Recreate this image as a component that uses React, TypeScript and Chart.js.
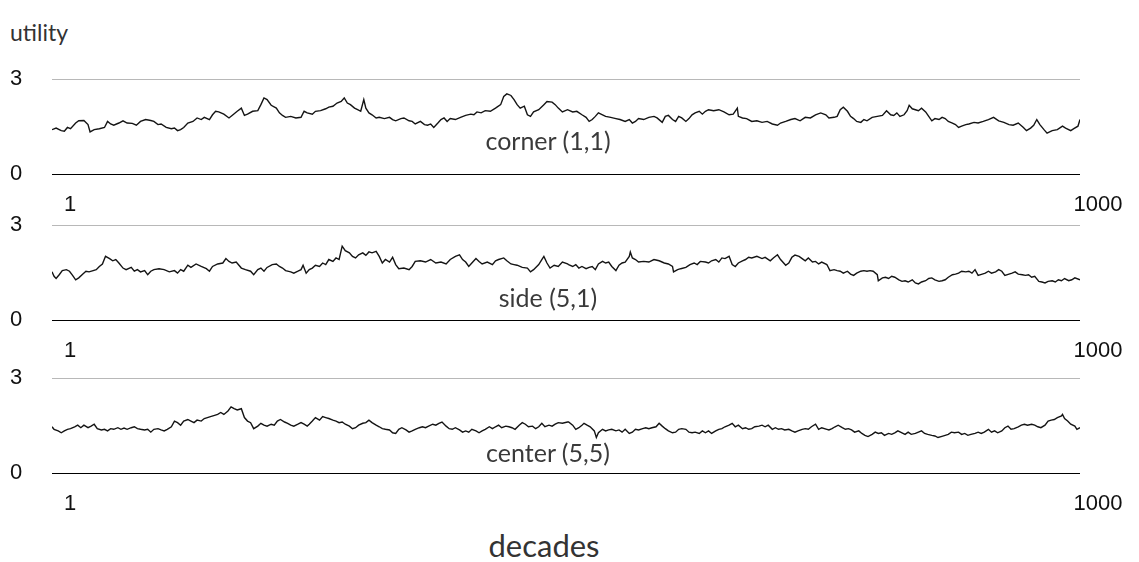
import React, { useEffect, useRef } from "react";
import { Chart, registerables } from "chart.js";

Chart.register(...registerables);

const xTickValues = [1, 1000];
const yTickValues = [0, 3];
const panelNames = ["corner (1,1)", "side (5,1)", "center (5,5)"];
const yAxisTitle = "utility";
const xAxisTitle = "decades";

const cornerDecades = [
  1, 5, 10, 13, 16, 19, 24, 27, 32, 36, 38, 42, 47, 52, 55, 58, 61, 66, 70, 74,
  79, 83, 87, 92, 97, 100, 104, 107, 112, 117, 120, 123, 126, 129, 133, 138, 142, 146, 149, 154,
  157, 160, 163, 168, 173, 176, 181, 185, 188, 191, 196, 201, 204, 207, 210, 214, 219, 222, 225, 228,
  233, 238, 243, 246, 249,
  254, 257, 262, 267, 270, 274, 278, 282, 285, 288, 291, 295, 298, 301, 304, 306, 309, 312, 316, 319,
  324, 329, 332, 335, 340, 343, 348, 351, 354, 359, 363, 366, 369, 372, 376, 379, 382, 385, 388, 393,
  398, 403, 408, 411, 414, 418, 422, 427, 432, 437, 440, 443, 447, 450, 453, 456, 460, 463, 466, 469,
  474, 479, 482, 487, 490, 493, 497, 502,
  507, 511, 516, 520, 523, 526, 529, 532, 536, 539, 544, 549, 553, 558, 562, 565, 568, 571, 576, 581,
  586, 589, 594, 597, 600, 604, 607, 610, 613, 617, 620, 623, 626, 630, 633, 636, 639, 644, 649, 654,
  659, 663, 667, 668, 672, 676, 681, 686, 691, 696, 701, 706, 709, 714, 719, 723, 728, 733, 738, 743,
  748, 753,
  756, 761, 764, 767, 770, 774, 777, 780, 783, 787, 790, 793, 798, 803, 808, 812, 816, 819, 822, 825,
  829, 832, 834, 837, 840, 843, 846, 850, 853, 856, 859, 863, 866, 869, 872, 876, 879, 882, 885, 889,
  892, 897, 901, 906, 911, 916, 921, 926, 931, 935, 940, 945, 948, 952, 955, 958, 961, 965, 968, 973,
  978, 983, 986, 991, 994, 998, 1000,
];
const cornerUtility = [
  1.40, 1.45, 1.37, 1.35, 1.47, 1.43, 1.61, 1.68, 1.69, 1.56, 1.33, 1.40, 1.43, 1.47, 1.66, 1.58, 1.54, 1.61, 1.68, 1.61,
  1.60, 1.54, 1.66, 1.72, 1.69, 1.66, 1.56, 1.58, 1.47, 1.43, 1.45, 1.37, 1.40, 1.47, 1.61, 1.66, 1.77, 1.72, 1.79, 1.72,
  1.87, 1.98, 1.96, 1.89, 1.77, 1.85, 1.98, 2.08, 1.85, 1.89, 1.98, 2.00, 2.19, 2.40, 2.35, 2.17, 2.08, 1.93, 1.85, 1.79,
  1.82, 1.77, 1.79, 1.98, 1.93,
  1.89, 1.98, 2.00, 2.06, 2.11, 2.14, 2.24, 2.29, 2.40, 2.24, 2.19, 2.08, 2.03, 1.98, 2.35, 2.08, 1.93, 1.87, 1.77, 1.79,
  1.75, 1.79, 1.72, 1.68, 1.75, 1.77, 1.68, 1.66, 1.58, 1.66, 1.56, 1.54, 1.58, 1.47, 1.61, 1.72, 1.77, 1.66, 1.75, 1.72,
  1.79, 1.85, 1.89, 1.87, 1.96, 1.93, 2.00, 1.98, 2.08, 2.19, 2.45, 2.53, 2.48, 2.35, 2.19, 2.08, 2.14, 1.87, 1.82, 1.96,
  2.03, 2.19, 2.29, 2.27, 2.19, 2.08, 1.96, 2.03,
  1.96, 1.98, 1.87, 1.79, 1.66, 1.72, 1.82, 1.93, 1.87, 1.82, 1.79, 1.75, 1.72, 1.66, 1.72, 1.61, 1.66, 1.75, 1.72, 1.79,
  1.82, 1.77, 1.63, 1.82, 1.85, 1.72, 1.66, 1.82, 1.77, 1.66, 1.75, 1.87, 1.93, 1.98, 1.89, 1.98, 2.03, 2.00, 2.03, 1.96,
  1.87, 1.89, 2.08, 1.82, 1.77, 1.75, 1.66, 1.68, 1.63, 1.66, 1.58, 1.54, 1.61, 1.66, 1.72, 1.75, 1.68, 1.79, 1.77, 1.87,
  1.93, 1.87,
  1.77, 1.79, 1.82, 2.03, 2.11, 1.98, 1.82, 1.75, 1.66, 1.63, 1.72, 1.68, 1.79, 1.82, 1.85, 2.00, 1.87, 1.85, 1.93, 1.82,
  1.87, 2.00, 2.17, 2.06, 2.03, 2.00, 2.08, 1.96, 1.82, 1.68, 1.75, 1.72, 1.79, 1.75, 1.66, 1.61, 1.56, 1.47, 1.51, 1.56,
  1.58, 1.63, 1.61, 1.66, 1.72, 1.79, 1.68, 1.63, 1.56, 1.54, 1.61, 1.47, 1.37, 1.45, 1.54, 1.72, 1.56, 1.40, 1.29, 1.37,
  1.40, 1.51, 1.45, 1.37, 1.43, 1.51, 1.72,
];

const sideDecades = [
  1, 3, 5, 8, 11, 15, 18, 21, 24, 27, 31, 34, 37, 41, 44, 47, 50, 53, 57, 60,
  63, 66, 70, 73, 78, 81, 84, 87, 91, 94, 97, 100, 105, 110, 115, 120, 123, 126, 129, 133,
  136, 141, 146, 151, 154, 157, 162, 167, 170, 173, 176, 180, 185, 189, 194, 197, 201, 204, 207, 210,
  215, 219, 222, 225, 228, 233, 236, 240, 243, 245, 248,
  251, 254, 257, 261, 264, 267, 270, 274, 277, 280, 283, 286, 290, 293, 296, 299, 303, 306, 309, 312,
  316, 319, 322, 325, 329, 332, 335, 338, 343, 348, 351, 354, 359, 364, 369, 374, 379, 384, 388, 393,
  397, 400, 403, 406, 409, 413, 416, 419, 424, 429, 432, 435, 440, 443, 447, 450, 453, 458, 463, 466,
  469, 474, 477, 479, 482, 485, 489, 493, 497, 502,
  503, 507, 510, 513, 516, 520, 523, 526, 529, 532, 536, 539, 542, 545, 549, 552, 555, 558, 562, 563,
  565, 568, 571, 576, 581, 586, 591, 596, 600, 604, 605, 609, 612, 617, 621, 625, 628, 631, 636, 639,
  642, 646, 649, 652, 655, 659, 662, 665, 668, 672, 675, 678, 681, 686, 691, 694, 699, 702, 706, 709,
  714, 717, 720, 723, 727, 730, 733, 736, 740, 743, 746, 749, 754,
  755, 757, 761, 764, 767, 770, 774, 777, 780, 783, 787, 790, 793, 796, 799, 803, 804, 808, 811, 814,
  817, 820, 824, 827, 830, 833, 837, 840, 843, 846, 850, 853, 856, 859, 863, 866, 869, 872, 876, 879,
  882, 885, 889, 892, 895, 898, 901, 905, 908, 911, 914, 918, 921, 924, 927, 931, 934, 937, 940, 944,
  947, 950, 953, 956, 960, 963, 966, 969, 973, 976, 979, 982, 985, 989, 992, 995, 1000,
];
const sideUtility = [
  1.52, 1.38, 1.31, 1.43, 1.56, 1.59, 1.54, 1.41, 1.27, 1.33, 1.45, 1.54, 1.52, 1.56, 1.59, 1.69, 1.77, 2.01, 1.94, 1.87,
  1.91, 1.80, 1.64, 1.59, 1.66, 1.54, 1.59, 1.52, 1.56, 1.43, 1.54, 1.59, 1.62, 1.59, 1.52, 1.56, 1.48, 1.59, 1.54, 1.73,
  1.66, 1.77, 1.69, 1.62, 1.54, 1.69, 1.77, 1.80, 1.94, 1.85, 1.80, 1.83, 1.64, 1.59, 1.54, 1.43, 1.59, 1.64, 1.54, 1.66,
  1.75, 1.77, 1.69, 1.64, 1.56, 1.52, 1.48, 1.54, 1.59, 1.73, 1.48,
  1.59, 1.64, 1.73, 1.69, 1.80, 1.75, 1.91, 1.85, 1.96, 1.91, 2.33, 2.19, 2.12, 2.01, 1.96, 2.06, 2.12, 2.04, 2.15, 2.12,
  2.17, 2.01, 1.80, 1.91, 1.83, 1.98, 1.75, 1.62, 1.64, 1.59, 1.69, 1.85, 1.87, 1.83, 1.91, 1.80, 1.83, 1.77, 1.91, 2.01,
  2.06, 1.91, 1.83, 1.69, 1.80, 1.94, 1.85, 1.77, 1.83, 1.75, 1.87, 1.91, 1.96, 1.87, 1.77, 1.75, 1.73, 1.66, 1.64, 1.52,
  1.59, 1.75, 1.91, 2.01, 1.80, 1.64, 1.73, 1.69, 1.83, 1.77,
  1.75, 1.69, 1.75, 1.64, 1.69, 1.62, 1.66, 1.69, 1.59, 1.77, 1.85, 1.80, 1.83, 1.69, 1.56, 1.73, 1.80, 1.83, 2.01, 2.15,
  1.96, 1.91, 1.83, 1.85, 1.83, 1.91, 1.87, 1.80, 1.77, 1.69, 1.52, 1.59, 1.62, 1.66, 1.75, 1.80, 1.75, 1.85, 1.83, 1.80,
  1.87, 1.91, 1.83, 1.96, 1.94, 2.01, 1.75, 1.69, 1.80, 1.87, 1.91, 1.98, 1.96, 2.01, 1.94, 1.98, 1.87, 1.96, 2.06, 1.91,
  1.73, 1.80, 1.98, 2.05, 2.01, 1.94, 1.87, 1.96, 1.83, 1.85, 1.77, 1.83, 1.75,
  1.69, 1.56, 1.59, 1.56, 1.54, 1.48, 1.54, 1.45, 1.41, 1.48, 1.54, 1.56, 1.54, 1.56, 1.54, 1.43, 1.24, 1.33, 1.35, 1.31,
  1.38, 1.35, 1.27, 1.22, 1.24, 1.20, 1.27, 1.17, 1.14, 1.20, 1.24, 1.31, 1.33, 1.27, 1.22, 1.24, 1.27, 1.35, 1.43, 1.45,
  1.48, 1.54, 1.52, 1.54, 1.48, 1.59, 1.41, 1.45, 1.48, 1.54, 1.48, 1.52, 1.59, 1.54, 1.41, 1.45, 1.48, 1.52, 1.45, 1.43,
  1.41, 1.43, 1.35, 1.38, 1.22, 1.20, 1.17, 1.22, 1.24, 1.20, 1.27, 1.24, 1.31, 1.24, 1.27, 1.33, 1.27,
];

const centerDecades = [
  1, 3, 7, 10, 13, 16, 19, 23, 26, 29, 32, 36, 39, 42, 45, 49, 52, 55, 58, 61,
  65, 68, 71, 74, 78, 81, 84, 87, 91, 94, 97, 100, 104, 107, 110, 113, 117, 120, 123, 126,
  129, 133, 136, 139, 142, 146, 149, 152, 155, 159, 162, 165, 168, 172, 175, 178, 181, 185, 188, 191,
  194, 197, 201, 204, 207, 210, 214, 217, 220, 223, 227, 230, 233, 236, 240, 243, 246, 249,
  251, 254, 257, 261, 264, 267, 270, 274, 277, 280, 283, 286, 290, 293, 296, 299, 303, 306, 309, 312,
  316, 319, 322, 325, 329, 332, 335, 338, 341, 345, 348, 351, 354, 358, 361, 364, 367, 371, 374, 377,
  380, 384, 387, 390, 393, 397, 400, 403, 406, 409, 413, 416, 419, 422, 426, 429, 432, 435, 438, 442,
  445, 448, 451, 455, 458, 461, 464, 468, 471, 474, 477, 480, 484, 487, 490, 493, 497, 502,
  503, 507, 510, 513, 516, 518, 521, 524, 528, 530, 532, 536, 539, 542, 545, 549, 552, 555, 558, 562,
  565, 568, 571, 575, 578, 581, 584, 588, 591, 594, 597, 600, 604, 607, 610, 613, 617, 620, 623, 626,
  630, 633, 636, 639, 642, 646, 649, 652, 655, 659, 662, 665, 668, 672, 675, 678, 681, 684, 688, 691,
  694, 697, 701, 704, 707, 710, 713, 717, 720, 723, 726, 730, 733, 736, 739, 743, 746, 749, 754,
  756, 759, 762, 765, 769, 772, 775, 778, 781, 785, 788, 791, 794, 798, 801, 804, 807, 810, 814, 817,
  820, 823, 827, 830, 833, 836, 840, 843, 846, 849, 852, 856, 859, 862, 865, 869, 872, 875, 878, 882,
  885, 888, 891, 894, 898, 901, 904, 907, 911, 914, 917, 920, 924, 927, 930, 933, 936, 940, 943, 946,
  949, 953, 956, 959, 962, 966, 969, 972, 975, 978, 982, 983, 985, 988, 991, 995, 997, 1000,
];
const centerUtility = [
  1.46, 1.38, 1.33, 1.27, 1.33, 1.38, 1.40, 1.46, 1.51, 1.43, 1.51, 1.43, 1.48, 1.54, 1.40, 1.36, 1.38, 1.33, 1.40, 1.38,
  1.43, 1.38, 1.42, 1.38, 1.43, 1.46, 1.40, 1.38, 1.36, 1.38, 1.29, 1.38, 1.40, 1.36, 1.33, 1.38, 1.46, 1.64, 1.59, 1.51,
  1.64, 1.69, 1.64, 1.59, 1.67, 1.64, 1.72, 1.75, 1.78, 1.82, 1.85, 1.91, 1.85, 1.96, 2.09, 2.03, 1.99, 2.03, 1.75, 1.64,
  1.59, 1.40, 1.48, 1.57, 1.51, 1.48, 1.54, 1.51, 1.64, 1.69, 1.61, 1.57, 1.51, 1.48, 1.54, 1.59, 1.54, 1.48,
  1.54, 1.64, 1.75, 1.67, 1.78, 1.75, 1.72, 1.67, 1.64, 1.59, 1.61, 1.54, 1.48, 1.40, 1.43, 1.51, 1.57, 1.59, 1.67, 1.59,
  1.51, 1.46, 1.40, 1.38, 1.36, 1.27, 1.25, 1.38, 1.43, 1.36, 1.29, 1.33, 1.38, 1.43, 1.46, 1.43, 1.48, 1.54, 1.51, 1.57,
  1.61, 1.48, 1.40, 1.38, 1.43, 1.36, 1.29, 1.33, 1.29, 1.38, 1.33, 1.27, 1.33, 1.38, 1.46, 1.40, 1.46, 1.51, 1.43, 1.48,
  1.46, 1.43, 1.38, 1.51, 1.59, 1.54, 1.46, 1.48, 1.40, 1.46, 1.57, 1.46, 1.51, 1.48, 1.54, 1.59, 1.57, 1.61,
  1.61, 1.51, 1.38, 1.43, 1.51, 1.57, 1.51, 1.46, 1.33, 1.12, 1.27, 1.38, 1.33, 1.36, 1.38, 1.33, 1.36, 1.29, 1.38, 1.25,
  1.29, 1.38, 1.36, 1.40, 1.43, 1.40, 1.43, 1.46, 1.57, 1.48, 1.40, 1.33, 1.27, 1.29, 1.38, 1.40, 1.38, 1.29, 1.27, 1.29,
  1.25, 1.33, 1.27, 1.33, 1.25, 1.33, 1.38, 1.40, 1.46, 1.51, 1.57, 1.46, 1.51, 1.40, 1.43, 1.38, 1.40, 1.46, 1.48, 1.51,
  1.46, 1.51, 1.38, 1.43, 1.38, 1.40, 1.36, 1.38, 1.33, 1.29, 1.33, 1.38, 1.40, 1.38, 1.46, 1.54, 1.38, 1.43, 1.38,
  1.36, 1.40, 1.46, 1.51, 1.43, 1.38, 1.40, 1.36, 1.29, 1.33, 1.25, 1.19, 1.15, 1.22, 1.29, 1.25, 1.27, 1.19, 1.25, 1.22,
  1.27, 1.33, 1.27, 1.22, 1.29, 1.22, 1.25, 1.29, 1.33, 1.25, 1.22, 1.19, 1.17, 1.12, 1.15, 1.19, 1.22, 1.29, 1.27, 1.29,
  1.22, 1.25, 1.19, 1.22, 1.25, 1.29, 1.25, 1.29, 1.38, 1.29, 1.33, 1.27, 1.33, 1.43, 1.48, 1.38, 1.40, 1.46, 1.51, 1.54,
  1.51, 1.54, 1.51, 1.46, 1.43, 1.51, 1.64, 1.67, 1.69, 1.75, 1.80, 1.85, 1.72, 1.64, 1.54, 1.48, 1.38, 1.43,
];

const seriesDecades = [cornerDecades, sideDecades, centerDecades];
const seriesUtility = [cornerUtility, sideUtility, centerUtility];

const W = 1139;
const H = 562;
const panelGridTop = [79, 225, 378];
const panelLabelCenterY = [140, 297, 452];
const LABEL_LEFT = 10;
const PLOT_LEFT = 52;
const PLOT_RIGHT = 1080;
const PLOT_H = 95;
const PAD_TOP = 18;
const X_AXIS_H = 45;

const tickFont = { family: '"Liberation Sans", Arial, sans-serif', size: 22 };
const titleFont = 'Lato, "Open Sans", "DejaVu Sans", sans-serif';

function Panel({ index }: { index: number }) {
  const ref = useRef<HTMLCanvasElement | null>(null);
  useEffect(() => {
    const decades = seriesDecades[index];
    const utility = seriesUtility[index];
    const chart = new Chart(ref.current as HTMLCanvasElement, {
      type: "line",
      data: {
        datasets: [
          {
            data: decades.map((d, i) => ({ x: d, y: utility[i] })),
            borderColor: "#141414",
            borderWidth: 1.4,
            pointRadius: 0,
            tension: 0,
            fill: false,
          },
        ],
      },
      options: {
        responsive: false,
        animation: false,
        layout: { padding: { top: PAD_TOP, left: LABEL_LEFT, right: W - PLOT_RIGHT, bottom: 0 } },
        plugins: { legend: { display: false }, tooltip: { enabled: false } },
        scales: {
          x: {
            type: "linear",
            min: 1,
            max: 1000,
            afterBuildTicks: (s: any) => {
              s.ticks = xTickValues.map((v) => ({ value: v }));
            },
            afterFit: (s: any) => {
              s.height = X_AXIS_H;
            },
            ticks: {
              autoSkip: false,
              maxRotation: 0,
              labelOffset: 18,
              padding: 10,
              color: "#111",
              font: tickFont,
              callback: (v: any) => String(v),
            },
            grid: { display: false },
            border: { display: false },
          },
          y: {
            min: 0,
            max: 3,
            afterBuildTicks: (s: any) => {
              s.ticks = yTickValues.map((v) => ({ value: v }));
            },
            afterFit: (s: any) => {
              s.width = PLOT_LEFT - LABEL_LEFT;
            },
            ticks: { padding: 0, crossAlign: "far", color: "#111", font: tickFont },
            grid: {
              drawTicks: false,
              lineWidth: 1,
              color: (c: any) => (c.tick && c.tick.value === 0 ? "#000" : "#b8b8b8"),
            },
            border: { display: false },
          },
        },
      },
    });
    return () => chart.destroy();
  }, [index]);
  return (
    <canvas
      ref={ref}
      width={W}
      height={PAD_TOP + PLOT_H + X_AXIS_H}
      style={{ position: "absolute", left: 0, top: panelGridTop[index] - PAD_TOP }}
    />
  );
}

export default function App() {
  return (
    <div
      style={{
        position: "absolute",
        left: 0,
        top: 0,
        width: W,
        height: H,
        background: "#fff",
        overflow: "hidden",
      }}
    >
      <div
        style={{
          position: "absolute",
          left: 10,
          top: 18,
          fontFamily: titleFont,
          fontSize: 23,
          color: "#333",
          lineHeight: "28px",
        }}
      >
        {yAxisTitle}
      </div>
      {panelNames.map((_, i) => (
        <Panel key={i} index={i} />
      ))}
      {panelNames.map((name, i) => (
        <div
          key={name}
          style={{
            position: "absolute",
            left: 548,
            top: panelLabelCenterY[i] - 15,
            transform: "translateX(-50%)",
            fontFamily: titleFont,
            fontSize: 25,
            color: "#3a3a3a",
            lineHeight: "30px",
            whiteSpace: "nowrap",
            zIndex: 2,
          }}
        >
          {name}
        </div>
      ))}
      <div
        style={{
          position: "absolute",
          left: 544,
          top: 545 - 18,
          transform: "translateX(-50%)",
          fontFamily: titleFont,
          fontSize: 31,
          color: "#333",
          lineHeight: "36px",
        }}
      >
        {xAxisTitle}
      </div>
    </div>
  );
}
